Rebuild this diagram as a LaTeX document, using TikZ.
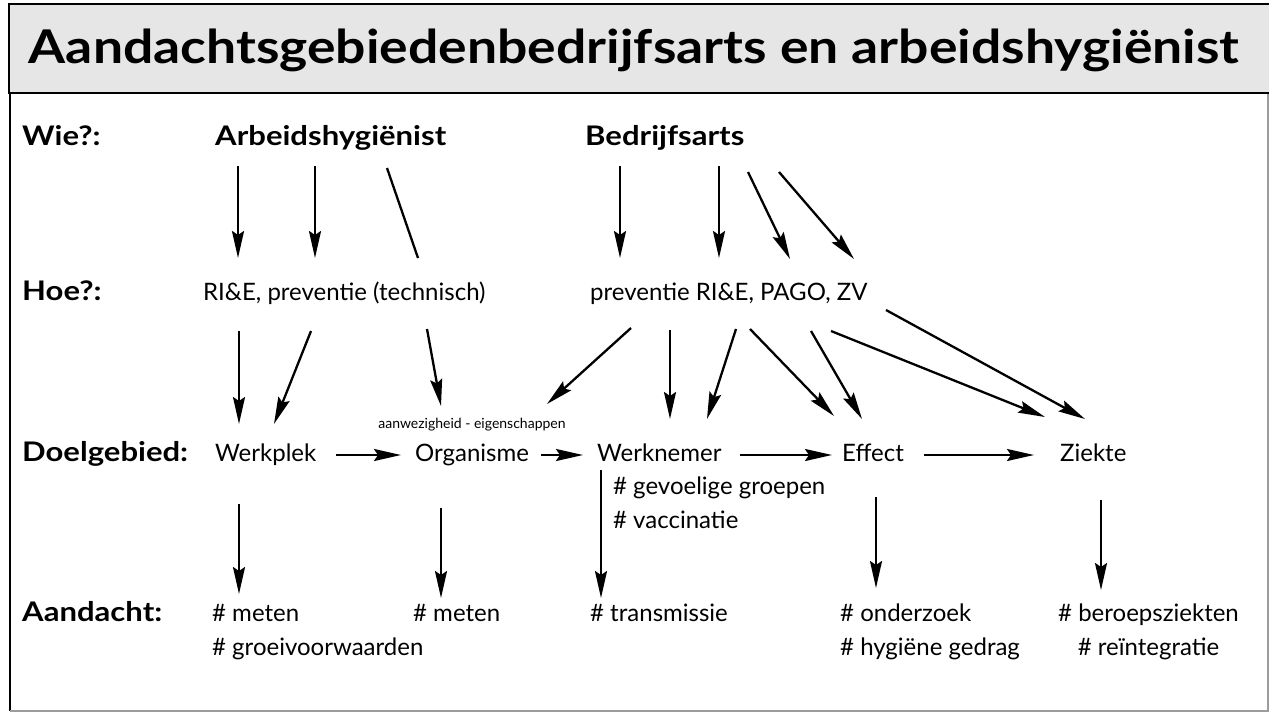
\documentclass[tikz,border=0pt]{standalone}
\usepackage{fontspec}
\setmainfont{Lato}[BoldFeatures={FakeStretch=1.15}]
\usetikzlibrary{arrows.meta}
\definecolor{titelgrijs}{HTML}{E6E6E6}
\definecolor{randgrijs}{HTML}{9C9C9C}
\tikzset{
  txt/.style={anchor=base west, inner sep=0pt, text height=17pt, text depth=5pt,
    font=\fontsize{24}{28}\selectfont},
  rij/.style={txt, font=\bfseries\fontsize{27}{30}\selectfont},
  klein/.style={anchor=base, inner sep=0pt, font=\fontsize{14}{16}\selectfont},
  pijl/.style={line width=2.3pt, -{Stealth[length=27pt,width=12pt,inset=4pt]}},
  lijn/.style={line width=2.3pt},
}
\begin{document}
\begin{tikzpicture}[x=1pt,y=-1pt]
  \useasboundingbox (0,0) rectangle (1269,713);
  % kader
  \draw[line width=2pt] (10,93) -- (10,711);
  \draw[randgrijs, line width=2pt] (10,711) -- (1268,711) -- (1268,93);
  \draw[line width=2pt, fill=titelgrijs] (9,4) rectangle (1272,93);
  \node[inner sep=0pt, font=\bfseries\fontsize{46.5}{52}\selectfont] (titel) at (634,50)
    {Aandachtsgebiedenbedrijfsarts en arbeidshygiënist};

  % rijen
  \node[rij] (wie) at (22,145) {Wie?:};
  \node[rij] (hoe) at (22,300) {Hoe?:};
  \node[rij] (doel) at (22,461) {Doelgebied:};
  \node[rij] (aandacht) at (22,621) {Aandacht:};

  % wie
  \node[rij] (arb) at (215,145) {Arbeidshygiënist};
  \node[rij] (bedr) at (585,145) {Bedrijfsarts};

  % hoe
  \node[txt] (hoearb) at (203,300) {RI\&E, preventie (technisch)};
  \node[txt] (hoebedr) at (590,300) {preventie RI\&E, PAGO, ZV};

  % doelgebied
  \node[txt] (werkplek) at (215,461) {Werkplek};
  \node[txt] (organisme) at (415,461) {Organisme};
  \node[klein] (aanwezig) at (472,428) {aanwezigheid - eigenschappen};
  \node[txt] (werknemer) at (597,461) {Werknemer};
  \node[txt] (effect) at (842,461) {Effect};
  \node[txt] (ziekte) at (1060,461) {Ziekte};
  \node[txt] (gevoelig) at (613,494) {\# gevoelige groepen};
  \node[txt] (vaccin) at (613,528) {\# vaccinatie};

  % aandacht
  \node[txt] (meten1) at (212,621) {\# meten};
  \node[txt] (groei) at (212,655) {\# groeivoorwaarden};
  \node[txt] (meten2) at (413,621) {\# meten};
  \node[txt] (transmissie) at (590,621) {\# transmissie};
  \node[txt] (onderzoek) at (840,621) {\# onderzoek};
  \node[txt] (gedrag) at (840,655) {\# hygiëne gedrag};
  \node[txt] (beroeps) at (1058,621) {\# beroepsziekten};
  \node[txt, anchor=base] (reintegratie) at (beroeps.base |- 0,655) {\# reïntegratie};

  % eindpunten van de pijlen
  \foreach \n/\x/\y in {a1/238/166, a1e/238/258, a2/315/166, a2e/315/258,
      a3/387/168, a3e/418/258, a4/620/166, a4e/620/258, a5/719/166, a5e/719/258,
      a6/748/172, a6e/790/259, a7/779/172, a7e/854/259,
      b1/239/331, b1e/239/424, b2/311/331, b2e/274/424, b3/427/329, b3e/441/406,
      b4/631/328, b4e/547/404, b5/670/330, b5e/670/419, b6/736/329, b6e/707/419,
      b7/750/329, b7e/834/416, b8/811/331, b8e/862/419, b9/831/331, b9e/1045/417,
      b10/886/310, b10e/1085/419,
      c1/239/504, c1e/239/594, c2/441/508, c2e/441/598, c3/601/470, c3e/601/598,
      c4/876/497, c4e/876/588, c5/1101/500, c5e/1101/590}
    \coordinate (\n) at (\x,\y);

  % wie -> hoe
  \draw[pijl] (a1) -- (a1e);
  \draw[pijl] (a2) -- (a2e);
  \draw[lijn] (a3) -- (a3e);
  \draw[pijl] (a4) -- (a4e);
  \draw[pijl] (a5) -- (a5e);
  \draw[pijl] (a6) -- (a6e);
  \draw[pijl] (a7) -- (a7e);

  % hoe -> doelgebied
  \foreach \p in {b1,b2,b3,b4,b5,b6,b7,b8,b9,b10}
    \draw[pijl] (\p) -- (\p e);

  % doelgebied -> aandacht
  \draw[pijl] (c1) -- (c1e);
  \draw[pijl] (c2) -- (c2e);
  \draw[pijl] (c3) -- (c3e);
  \draw[pijl] (c4) -- (c4e);
  \draw[pijl] (c5) -- (c5e);

  % keten
  \draw[pijl, shorten <=20pt, shorten >=14pt] (werkplek.east) -- (organisme.west);
  \draw[pijl, shorten <=12pt, shorten >=14pt] (organisme.east) -- (werknemer.west);
  \draw[pijl, shorten <=18pt, shorten >=10pt] (werknemer.east) -- (effect.west);
  \draw[pijl, shorten <=20pt, shorten >=26pt] (effect.east) -- (ziekte.west);
\end{tikzpicture}
\end{document}
